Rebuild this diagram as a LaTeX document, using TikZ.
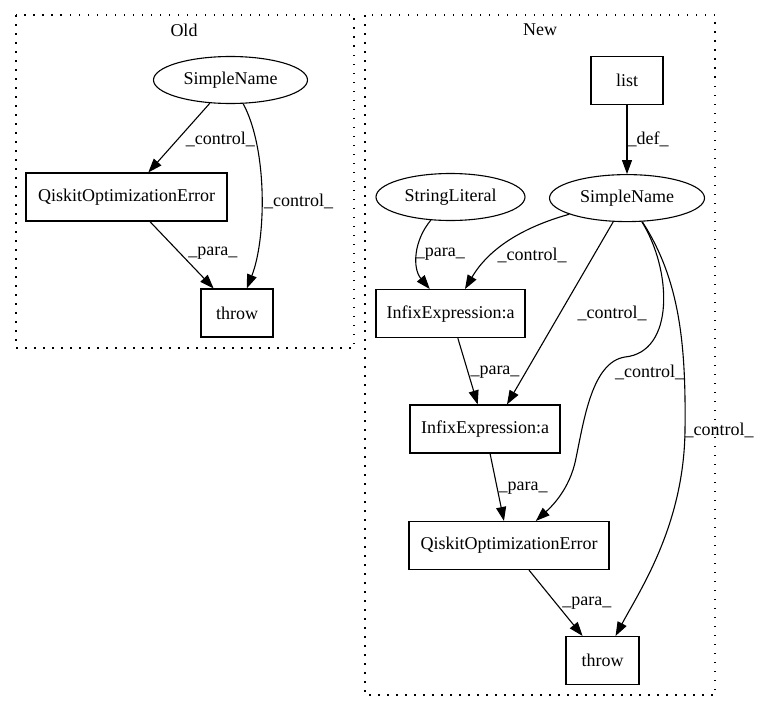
\documentclass[tikz,border=0pt]{standalone}
\usepackage{fontspec}
\setmainfont{Liberation Serif}
\usetikzlibrary{shapes.geometric,arrows.meta,positioning}

\begin{document}
\begin{tikzpicture}[x=1pt,y=-1pt,line width=1.1pt,>={Triangle[length=14pt,width=10pt]},
  font=\fontsize{18}{21}\selectfont,
  box/.style={draw,rectangle,minimum height=48pt,inner sep=0pt},
  oval/.style={draw,ellipse,minimum height=47pt,inner sep=0pt},
  lbl/.style={inner sep=1pt,anchor=west},
  cluster/.style={draw,dash pattern=on 1.5pt off 7.5pt}]
\useasboundingbox (0,0) rectangle (759,712);

% Old
\draw[cluster] (16,15) rectangle (354,348);
\node (oldtitle) at (184,30) {Old};
\node[oval,minimum width=154pt] (oldname) at (230.5,80) {SimpleName};
\node[box,minimum width=201pt] (olderror) at (126.5,197) {QiskitOptimizationError};
\node[box,minimum width=72pt] (oldthrow) at (237,313) {throw};

\draw[->] (oldname) edge node[lbl,pos=.53,xshift=7pt] {\_control\_} (olderror);
\draw[->] (oldname) .. controls (268,150) and (266,240) .. (oldthrow) node[lbl,pos=.53,xshift=1pt] {\_control\_};
\draw[->] (olderror) edge node[lbl,pos=.47,xshift=7pt] {\_para\_} (oldthrow);

% New
\draw[cluster] (365,15) rectangle (715,695);
\node (newtitle) at (540,30) {New};
\node[box,minimum width=72pt] (newlist) at (627,80.5) {list};
\node[oval,minimum width=155pt,below=69pt of newlist] (newname) {SimpleName};
\node[oval,minimum width=149pt] (newstr) at (450.5,197) {StringLiteral};
\node[box,minimum width=149pt,below=68pt of newstr] (newinfa) {InfixExpression:a};
\node[box,minimum width=150pt] (newinfb) at (485,429) {InfixExpression:a};
\node[box,minimum width=200pt] (newerror) at (509,545.5) {QiskitOptimizationError};
\node[box,minimum width=73pt] (newthrow) at (602.5,660.5) {throw};

\draw[->] (newlist) edge node[lbl,pos=.49,xshift=-1pt] {\_def\_} (newname);
\draw[->] (newstr) .. controls (414,240) and (412,268) .. (newinfa) node[lbl,pos=.5,xshift=-3pt] {\_para\_};
\draw[->] (newname) .. controls (520,228) and (488,250) .. (newinfa) node[lbl,pos=.67,xshift=5pt] {\_control\_};
\draw[->] (newname) edge node[lbl,pos=.5,xshift=16pt] {\_control\_} ([xshift=22pt]newinfb.north);
\draw[->] (newname) .. controls (672,270) and (675,352) .. (625,357)
  .. controls (592,362) and (584,420) .. (576,458) node[lbl,pos=.28,xshift=11pt] {\_control\_}
  .. controls (570,490) and (550,508) .. (newerror);
\draw[->] (newname) .. controls (680,280) and (686,345) .. (685,430) node[lbl,xshift=-2pt] {\_control\_}
  .. controls (684,525) and (640,590) .. (newthrow);
\draw[->] (newinfa) edge node[lbl,pos=.51,xshift=1pt] {\_para\_} (newinfb);
\draw[->] (newinfb) edge node[lbl,pos=.51] {\_para\_} (newerror);
\draw[->] (newerror) edge node[lbl,pos=.5,xshift=5pt] {\_para\_} (newthrow);
\end{tikzpicture}
\end{document}
